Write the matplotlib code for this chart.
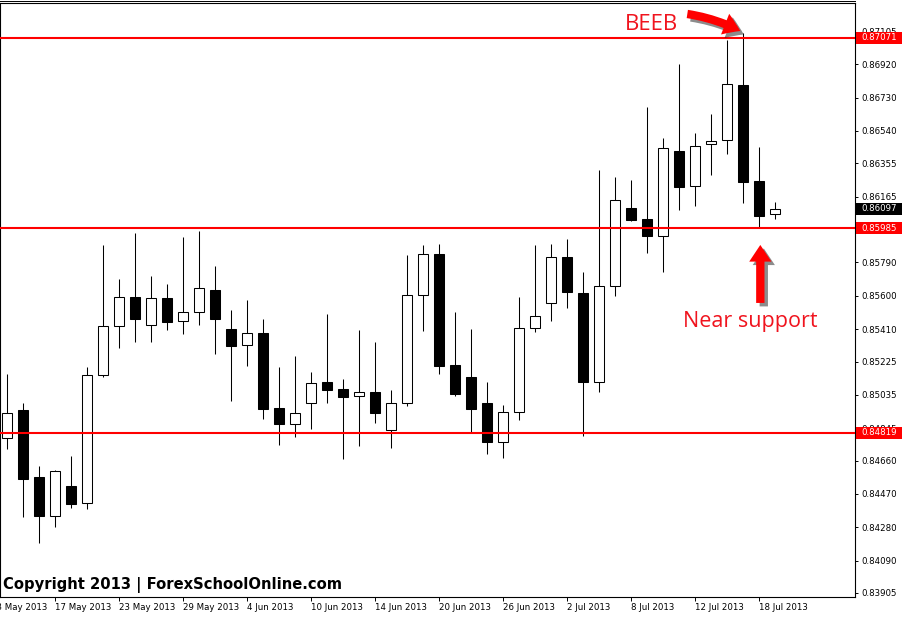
import matplotlib
matplotlib.use("Agg")
import matplotlib.pyplot as plt
import matplotlib.patheffects as pe
from matplotlib.patches import Rectangle
from matplotlib.lines import Line2D
from matplotlib.transforms import blended_transform_factory, offset_copy

# ---------------- data (EUR/GBP daily, 14 May - 19 Jul 2013) ----------------
opens = [0.84789, 0.84949, 0.84567, 0.84344, 0.84515, 0.84418, 0.85149, 0.85428, 0.85593, 0.85434,
         0.85588, 0.85457, 0.85508, 0.85633, 0.85411, 0.85320, 0.85388, 0.84960, 0.84869, 0.84989,
         0.85109, 0.85069, 0.85029, 0.85052, 0.84835, 0.84989, 0.85605, 0.85839, 0.85206, 0.85137,
         0.84989, 0.84766, 0.84938, 0.85417, 0.85559, 0.85822, 0.85616, 0.85109, 0.85656, 0.86101,
         0.86038, 0.85941, 0.86426, 0.86227, 0.86466, 0.86489, 0.86803, 0.86255, 0.86067]
highs = [0.85154, 0.84989, 0.84629, 0.84607, 0.84687, 0.85194, 0.85890, 0.85696, 0.85958, 0.85713,
         0.85668, 0.85936, 0.85970, 0.85770, 0.85519, 0.85576, 0.85468, 0.85194, 0.85257, 0.85166,
         0.85497, 0.85126, 0.85405, 0.85337, 0.85063, 0.85833, 0.85890, 0.85896, 0.85508, 0.85411,
         0.85109, 0.84977, 0.85593, 0.85890, 0.85896, 0.85924, 0.85736, 0.86318, 0.86278, 0.86261,
         0.86677, 0.86500, 0.86922, 0.86529, 0.86637, 0.87059, 0.87099, 0.86449, 0.86135]
lows = [0.84726, 0.84339, 0.84190, 0.84282, 0.84390, 0.84384, 0.85137, 0.85303, 0.85337, 0.85337,
        0.85405, 0.85382, 0.85434, 0.85268, 0.85000, 0.85200, 0.84898, 0.84749, 0.84795, 0.84841,
        0.84989, 0.84669, 0.84744, 0.84875, 0.84732, 0.84972, 0.85400, 0.85154, 0.85029, 0.84818,
        0.84698, 0.84675, 0.84892, 0.85394, 0.85457, 0.85531, 0.84801, 0.85052, 0.85599, 0.86027,
        0.85844, 0.85736, 0.86090, 0.86112, 0.86289, 0.86409, 0.86130, 0.85987, 0.86038]
closes = [0.84932, 0.84555, 0.84344, 0.84601, 0.84413, 0.85149, 0.85428, 0.85593, 0.85468, 0.85588,
          0.85451, 0.85508, 0.85645, 0.85468, 0.85314, 0.85388, 0.84955, 0.84869, 0.84932, 0.85103,
          0.85063, 0.85023, 0.85052, 0.84932, 0.84989, 0.85605, 0.85839, 0.85200, 0.85040, 0.84955,
          0.84766, 0.84938, 0.85417, 0.85485, 0.85822, 0.85622, 0.85109, 0.85656, 0.86147, 0.86033,
          0.85941, 0.86443, 0.86221, 0.86455, 0.86483, 0.86808, 0.86249, 0.86056, 0.86097]

date_labels = ["13 May 2013", "17 May 2013", "23 May 2013", "29 May 2013", "4 Jun 2013",
               "10 Jun 2013", "14 Jun 2013", "20 Jun 2013", "26 Jun 2013", "2 Jul 2013",
               "8 Jul 2013", "12 Jul 2013", "18 Jul 2013"]
date_idx = [-1, 3, 7, 11, 15, 19, 23, 27, 31, 35, 39, 43, 47]

price_ticks = [0.87105, 0.86920, 0.86730, 0.86540, 0.86355, 0.86165, 0.85975, 0.85790, 0.85600,
               0.85410, 0.85225, 0.85035, 0.84845, 0.84660, 0.84470, 0.84280, 0.84090, 0.83905]

resistance = 0.87071
support = 0.85985
lower_level = 0.84819
current_price = 0.86097

# ---------------- figure ----------------
W, H = 902, 617
fig = plt.figure(figsize=(W / 100, H / 100), dpi=100)
fig.patch.set_facecolor("white")
ax = fig.add_axes([0 / W, (H - 597) / H, 855 / W, (597 - 3) / H])
ax.set_facecolor("white")
ax.set_xlim(-0.456, 52.98)
ax.set_ylim(0.83882, 0.87270)

# thin outer frame line above the chart
fig.add_artist(Line2D([0, 855 / W], [1 - 1 / H, 1 - 1 / H], color="black", linewidth=0.7))

n = len(opens)
xs = list(range(n))

# wicks
ax.vlines(xs, lows, highs, color="black", linewidth=0.75, zorder=2)
# bodies
bottoms = [min(o, c) for o, c in zip(opens, closes)]
heights = [max(abs(c - o), 0.00002) for o, c in zip(opens, closes)]
colors = ["white" if c >= o else "black" for o, c in zip(opens, closes)]
ax.bar(xs, heights, bottom=bottoms, width=0.62, color=colors, edgecolor="black",
       linewidth=0.75, zorder=3)

# horizontal levels
for lv in (resistance, support, lower_level):
    ax.axhline(lv, color="#FF0000", linewidth=1.5, zorder=4)

# axes styling
for sp in ax.spines.values():
    sp.set_color("black")
    sp.set_linewidth(0.8)
ax.yaxis.tick_right()
ax.set_yticks(price_ticks)
ax.set_yticklabels([f"{v:.5f}" for v in price_ticks])
ax.tick_params(axis="y", direction="out", length=2.2, width=0.7, pad=2.2,
               labelsize=6.2, colors="black")
ax.set_xticks(date_idx[1:])
ax.set_xticklabels(date_labels[1:])
ax.tick_params(axis="x", direction="out", length=2.9, width=0.7, pad=1.5,
               labelsize=6.2, colors="black")
for lab in ax.get_xticklabels():
    lab.set_ha("left")
# partially visible first date label (left of the view)
tr_x = offset_copy(blended_transform_factory(ax.transData, ax.transAxes), fig=fig,
                   x=0, y=-(2.9 + 1.5), units="points")
ax.text(date_idx[0], 0, date_labels[0], transform=tr_x, ha="left", va="top",
        fontsize=6.2, color="black", clip_on=False)

# price tags on the right axis
tr_tag = blended_transform_factory(ax.transAxes, ax.transData)
yr = ax.get_ylim()
hh = 6 * (yr[1] - yr[0]) / 594
for lv, fc in ((resistance, "#FF0000"), (support, "#FF0000"),
               (lower_level, "#FF0000"), (current_price, "black")):
    ax.add_patch(Rectangle((1 + 1 / 855, lv - hh), 47 / 855, 2 * hh, transform=tr_tag,
                           facecolor=fc, edgecolor="none", clip_on=False, zorder=9))
    ax.text(1 + 6 / 855, lv, f"{lv:.5f}", transform=tr_tag, ha="left", va="center",
            fontsize=6.2, color="white", clip_on=False, zorder=10)

# annotations
red_txt = "#F0141E"
ax.text(625 / 855, (597 - 30) / 594, "BEEB", transform=ax.transAxes, ha="left",
        va="baseline", fontsize=16, color=red_txt, family="Open Sans")
ax.text(683 / 855, (597 - 327) / 594, "Near support", transform=ax.transAxes, ha="left",
        va="baseline", fontsize=15.5, color=red_txt, family="Open Sans")
ax.text(3 / 855, (597 - 589) / 594, "Copyright 2013 | ForexSchoolOnline.com",
        transform=ax.transAxes, ha="left", va="baseline", fontsize=10.6,
        fontweight="bold", color="black", family="DejaVu Sans")

shadow = [pe.SimplePatchShadow(offset=(2.5, -2.5), shadow_rgbFace="black", alpha=0.45),
          pe.Normal()]
arrow_style = "simple,head_length=1.2,head_width=1.6,tail_width=0.6"

beeb_tip = offset_copy(ax.transData, fig=fig, x=-3, y=2, units="dots")
a1 = ax.annotate("", xy=(46, highs[46]), xycoords=beeb_tip, xytext=(-53, 17),
                 textcoords="offset pixels",
                 arrowprops=dict(arrowstyle=arrow_style, mutation_scale=10,
                                 facecolor="#FF0000", edgecolor="none",
                                 shrinkA=0, shrinkB=0,
                                 connectionstyle="arc3,rad=-0.08"), zorder=8)
a1.arrow_patch.set_path_effects(shadow)

sup_tip = offset_copy(ax.transData, fig=fig, x=1, y=-17, units="dots")
a2 = ax.annotate("", xy=(47, lows[47]), xycoords=sup_tip, xytext=(0, -58),
                 textcoords="offset pixels",
                 arrowprops=dict(arrowstyle=arrow_style, mutation_scale=10,
                                 facecolor="#FF0000", edgecolor="none",
                                 shrinkA=0, shrinkB=0), zorder=8)
a2.arrow_patch.set_path_effects(shadow)

fig.savefig("out.png", dpi=100, facecolor="white")
